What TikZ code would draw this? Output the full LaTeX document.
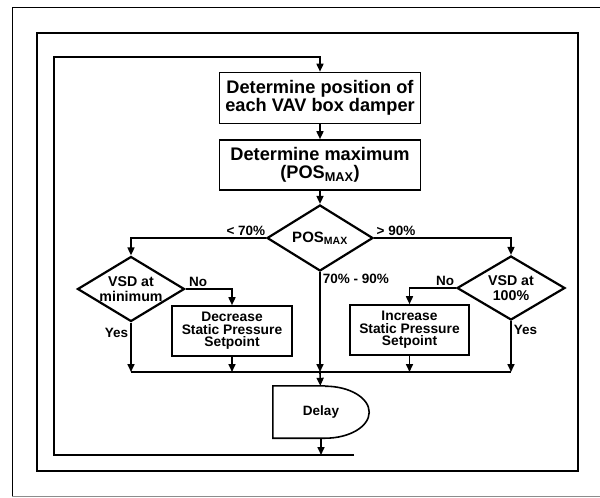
\documentclass[tikz,border=0pt]{standalone}
\usepackage{fontspec}
\setmainfont{Liberation Sans}
\usetikzlibrary{shapes.geometric,arrows.meta,calc}
\definecolor{pageedge}{HTML}{8C8C8C}
\tikzset{
  flowline/.style={line width=1.6pt},
  arrowline/.style={flowline, -{Triangle[length=8pt,width=7pt]}},
  procbox/.style={draw, line width=1.6pt, align=center, inner sep=0pt,
    font=\bfseries\fontsize{18.2}{18}\selectfont},
  actbox/.style={procbox, minimum width=120pt, minimum height=50pt,
    font=\bfseries\fontsize{13.8}{12.5}\selectfont},
  decision/.style={diamond, draw, line width=2.2pt, align=center, inner sep=0pt,
    aspect=1.65, font=\bfseries\fontsize{14.2}{15}\selectfont},
  lbl/.style={inner sep=2pt, font=\bfseries\fontsize{13.5}{13.5}\selectfont}
}

\begin{document}
\begin{tikzpicture}[x=1pt, y=-1pt]
  \useasboundingbox (0,0) rectangle (600,498);
  \draw[line width=0.8pt] (600,7) -- (12,7) -- (12,496);
  \draw[pageedge, line width=0.8pt] (12,496) -- (600,496);
  \draw[line width=2.5pt] (37,33) rectangle (578,471);

  \coordinate (loopnw) at (54,57);
  \coordinate (loopsw) at (54,455);
  \coordinate (loopend) at (354,455);
  \coordinate (merge) at (320,372);

  \node[procbox, minimum width=201pt, minimum height=51pt] (posbox) at (320,98)
    {Determine position of\\each VAV box damper};
  \node[procbox, minimum width=201pt, minimum height=50pt] (maxbox) at (320,165)
    {Determine maximum\\(POS\textsubscript{MAX})};
  \node[decision, minimum width=106pt, minimum height=66pt,
    font=\bfseries\fontsize{15}{16}\selectfont] (dmax) at (320,238) {POS\textsubscript{MAX}};
  \node[decision, minimum width=107pt, minimum height=65pt] (vmin) at (131,289)
    {VSD at\\minimum};
  \node[decision, minimum width=108pt, minimum height=64pt] (vfull) at (511,288)
    {VSD at\\100\%};
  \node[actbox] (decbox) at (232,331) {Decrease\\Static Pressure\\Setpoint};
  \node[actbox, minimum width=119pt] (incbox) at (409.5,330) {Increase\\Static Pressure\\Setpoint};
  \node[minimum width=96pt, minimum height=52pt, inner sep=0pt,
    font=\bfseries\fontsize{13.5}{14}\selectfont] (delay) at (321,412) {Delay};
  \draw[flowline] ($(delay.north east)+(-44,0)$) -- (delay.north west)
    -- (delay.south west) -- ($(delay.south east)+(-44,0)$)
    arc[start angle=-90, end angle=90, x radius=44pt, y radius=26pt];

  \draw[arrowline] (loopend) -- (loopsw) -- (loopnw) -| (posbox.north);
  \draw[arrowline] (posbox) -- (maxbox);
  \draw[arrowline] (maxbox) -- (dmax);
  \draw[arrowline] (dmax.west) -| node[lbl, pos=0.074, above] {< 70\%} (vmin.north);
  \draw[arrowline] (dmax.east) -| node[lbl, pos=0.08, above] {> 90\%} (vfull.north);
  \draw[arrowline] (dmax.south) -- node[lbl, pos=0.07, anchor=west] {70\% - 90\%} (merge);
  \draw[arrowline] (vmin.east) -| node[lbl, pos=0.135, above] {No} (decbox.north);
  \draw[arrowline] (vmin.south) -- node[lbl, pos=0.21, left] {Yes} (vmin.south |- merge);
  \draw[arrowline] (decbox) -- (decbox |- merge);
  \draw[arrowline] (vfull.west) -| node[lbl, pos=0.115, above] {No} (incbox.north);
  \draw[arrowline] (vfull.south) -- node[lbl, pos=0.18, right] {Yes} (vfull.south |- merge);
  \draw[arrowline] (incbox) -- (incbox |- merge);
  \draw[flowline] (vmin.south |- merge) -- (vfull.south |- merge);
  \draw[arrowline] (merge) -- (delay);
  \draw[arrowline] (delay.south) -- (delay.south |- loopend);
\end{tikzpicture}
\end{document}
